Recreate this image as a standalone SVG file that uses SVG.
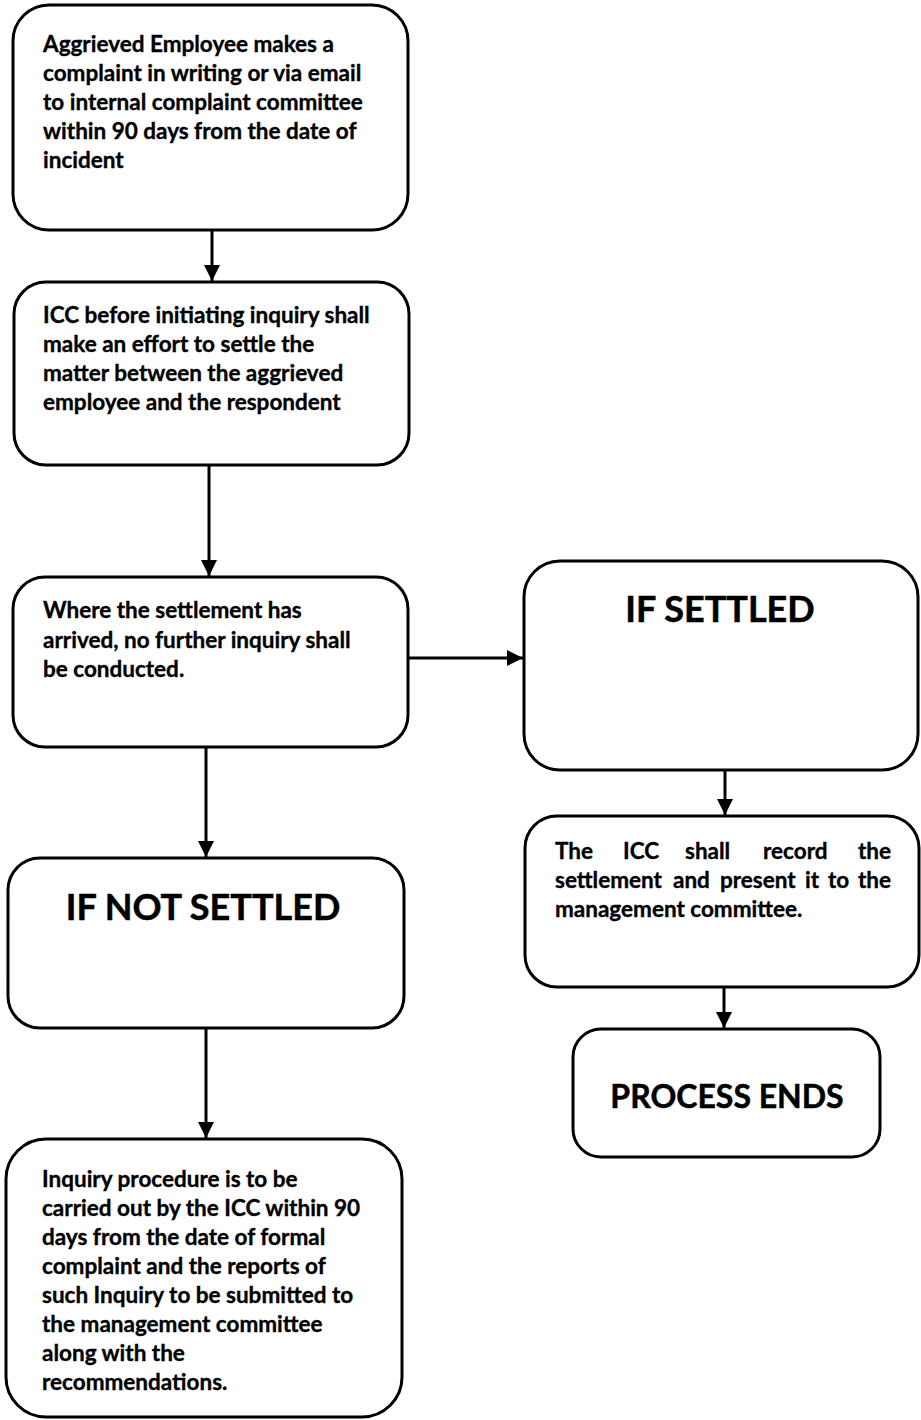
<svg xmlns="http://www.w3.org/2000/svg" width="921" height="1420" viewBox="0 0 921 1420">
<style>
.box{fill:#fff;stroke:#000;stroke-width:3}
.t{font-family:Lato,"Liberation Sans",sans-serif;font-weight:bold;font-size:22.5px;fill:#000;stroke:#000;stroke-width:0.35}
.h{font-family:Lato,"Liberation Sans",sans-serif;font-weight:bold;fill:#000;stroke:#000;stroke-width:0.5;text-anchor:middle}
.c{stroke:#000;stroke-width:3;fill:none}
</style>
<defs>
<marker id="ah" viewBox="0 0 10 10" refX="10" refY="5" markerWidth="5.5" markerHeight="5.5" orient="auto" markerUnits="strokeWidth">
<path d="M0,0 L10,5 L0,10 z" fill="#000"/>
</marker>
</defs>
<rect width="921" height="1420" fill="#fff"/>
<g id="connectors">
<line class="c" x1="212" y1="230" x2="212" y2="281" marker-end="url(#ah)"/>
<line class="c" x1="209" y1="465" x2="209" y2="576" marker-end="url(#ah)"/>
<line class="c" x1="408" y1="658" x2="523" y2="658" marker-end="url(#ah)"/>
<line class="c" x1="206" y1="747" x2="206" y2="857" marker-end="url(#ah)"/>
<line class="c" x1="725" y1="770" x2="725" y2="815" marker-end="url(#ah)"/>
<line class="c" x1="206" y1="1028" x2="206" y2="1138" marker-end="url(#ah)"/>
<line class="c" x1="724" y1="987" x2="724" y2="1028" marker-end="url(#ah)"/>
</g>
<g id="n1">
<rect class="box" x="13" y="5" width="395" height="225" rx="36"/>
<text class="t" x="43" y="52">Aggrieved Employee makes a</text>
<text class="t" x="43" y="81">complaint in writing or via email</text>
<text class="t" x="43" y="110">to internal complaint committee</text>
<text class="t" x="43" y="139">within 90 days from the date of</text>
<text class="t" x="43" y="168">incident</text>
</g>
<g id="n2">
<rect class="box" x="14" y="282" width="395" height="183" rx="32"/>
<text class="t" x="43" y="323">ICC before initiating inquiry shall</text>
<text class="t" x="43" y="352">make an effort to settle the</text>
<text class="t" x="43" y="381">matter between the aggrieved</text>
<text class="t" x="43" y="410">employee and the respondent</text>
</g>
<g id="n3">
<rect class="box" x="13" y="577" width="395" height="170" rx="32"/>
<text class="t" x="43" y="618">Where the settlement has</text>
<text class="t" x="43" y="648">arrived, no further inquiry shall</text>
<text class="t" x="43" y="677">be conducted.</text>
</g>
<g id="n4">
<rect class="box" x="524" y="561" width="394" height="209" rx="36"/>
<text class="h" x="720" y="622" font-size="36">IF SETTLED</text>
</g>
<g id="n5">
<rect class="box" x="8" y="858" width="396" height="170" rx="32"/>
<text class="h" x="203" y="920" font-size="36">IF NOT SETTLED</text>
</g>
<g id="n6">
<rect class="box" x="525" y="816" width="394" height="171" rx="32"/>
<text class="t" x="555" y="859">The</text>
<text class="t" x="623" y="859">ICC</text>
<text class="t" x="685" y="859">shall</text>
<text class="t" x="763" y="859">record</text>
<text class="t" x="891" y="859" text-anchor="end">the</text>
<text class="t" x="555" y="888">settlement</text>
<text class="t" x="673" y="888">and</text>
<text class="t" x="720" y="888">present</text>
<text class="t" x="805" y="888">it</text>
<text class="t" x="828" y="888">to</text>
<text class="t" x="891" y="888" text-anchor="end">the</text>
<text class="t" x="555" y="917">management committee.</text>
</g>
<g id="n7">
<rect class="box" x="573" y="1029" width="307" height="128" rx="28"/>
<text class="h" x="727" y="1108" font-size="32">PROCESS ENDS</text>
</g>
<g id="n8">
<rect class="box" x="6" y="1139" width="396" height="278" rx="40"/>
<text class="t" x="42" y="1187">Inquiry procedure is to be</text>
<text class="t" x="42" y="1216">carried out by the ICC within 90</text>
<text class="t" x="42" y="1245">days from the date of formal</text>
<text class="t" x="42" y="1274">complaint and the reports of</text>
<text class="t" x="42" y="1303">such Inquiry to be submitted to</text>
<text class="t" x="42" y="1332">the management committee</text>
<text class="t" x="42" y="1361">along with the</text>
<text class="t" x="42" y="1390">recommendations.</text>
</g>
</svg>
